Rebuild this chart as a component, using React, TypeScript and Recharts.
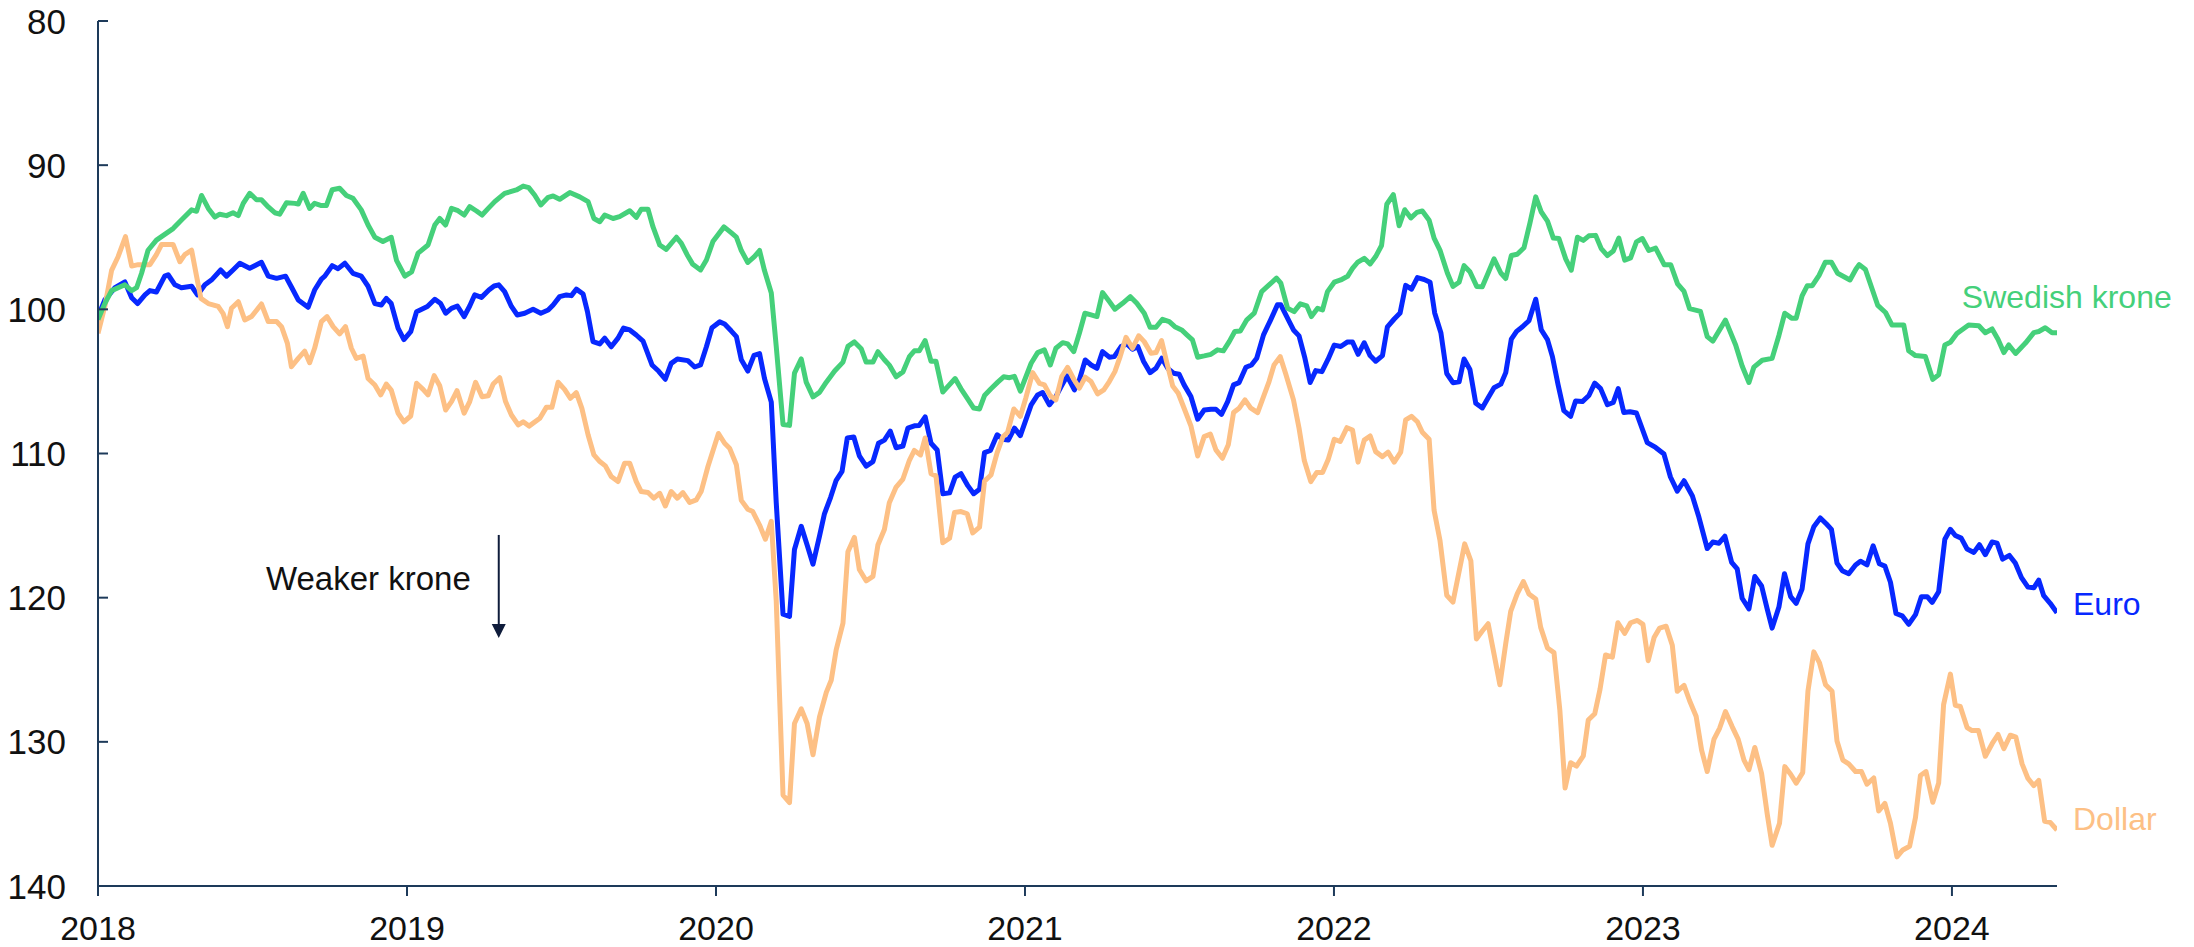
import React from 'react';
import { LineChart, Line, XAxis, YAxis, ReferenceDot, ReferenceLine } from 'recharts';

const yearTicks = [2018, 2019, 2020, 2021, 2022, 2023, 2024];
const valueTicks = [80, 90, 100, 110, 120, 130, 140];
const seriesNames = { sek: 'Swedish krone', eur: 'Euro', usd: 'Dollar' };
const annotationText = 'Weaker krone';

// [decimal year, index value]
const swedishKrone: [number, number][] = [
  [2018.000,100.7],[2018.022,99.6],[2018.044,98.7],[2018.087,98.3],[2018.109,98.7],[2018.125,98.5],[2018.141,97.5],[2018.162,95.9],[2018.189,95.2],[2018.216,94.8],[2018.243,94.4],[2018.270,93.8],[2018.303,93.1],[2018.319,93.2],[2018.335,92.1],[2018.357,93.0],[2018.378,93.6],[2018.394,93.4],[2018.416,93.5],[2018.437,93.3],[2018.454,93.5],[2018.470,92.65],[2018.491,91.95],[2018.513,92.4],[2018.529,92.4],[2018.551,92.9],[2018.572,93.3],[2018.588,93.4],[2018.610,92.6],[2018.637,92.65],[2018.648,92.7],[2018.664,91.95],[2018.685,93.0],[2018.701,92.65],[2018.723,92.8],[2018.739,92.8],[2018.758,91.7],[2018.782,91.6],[2018.804,92.1],[2018.825,92.3],[2018.852,93.1],[2018.874,94.15],[2018.896,95.0],[2018.922,95.3],[2018.949,95.0],[2018.966,96.6],[2018.993,97.7],
  [2019.015,97.4],[2019.036,96.1],[2019.068,95.54],[2019.090,94.15],[2019.106,93.7],[2019.125,94.15],[2019.144,93.0],[2019.165,93.16],[2019.185,93.46],[2019.203,92.88],[2019.225,93.18],[2019.243,93.46],[2019.263,93.0],[2019.284,92.53],[2019.316,91.96],[2019.354,91.72],[2019.376,91.45],[2019.394,91.56],[2019.413,92.07],[2019.433,92.76],[2019.457,92.23],[2019.473,92.14],[2019.494,92.37],[2019.527,91.9],[2019.559,92.2],[2019.586,92.53],[2019.605,93.7],[2019.624,93.92],[2019.640,93.46],[2019.667,93.7],[2019.688,93.57],[2019.721,93.16],[2019.742,93.62],[2019.758,93.06],[2019.780,93.06],[2019.796,94.27],[2019.818,95.54],[2019.839,95.84],[2019.872,95.0],[2019.888,95.42],[2019.907,96.23],[2019.925,96.88],[2019.950,97.27],[2019.969,96.58],[2019.990,95.3],
  [2020.026,94.28],[2020.049,94.68],[2020.066,94.99],[2020.082,95.92],[2020.103,96.75],[2020.125,96.32],[2020.141,95.92],[2020.157,97.31],[2020.179,98.86],[2020.195,102.57],[2020.217,107.99],[2020.238,108.05],[2020.254,104.43],[2020.276,103.44],[2020.292,105.05],[2020.314,106.07],[2020.335,105.76],[2020.357,105.05],[2020.384,104.28],[2020.411,103.66],[2020.427,102.57],[2020.448,102.26],[2020.470,102.73],[2020.486,103.66],[2020.508,103.66],[2020.524,102.94],[2020.545,103.5],[2020.561,103.87],[2020.583,104.68],[2020.605,104.34],[2020.626,103.28],[2020.642,102.88],[2020.658,102.88],[2020.677,102.17],[2020.696,103.6],[2020.712,103.6],[2020.734,105.73],[2020.750,105.36],[2020.774,104.8],[2020.793,105.51],[2020.815,106.23],[2020.834,106.85],[2020.853,106.91],[2020.869,105.98],[2020.890,105.51],[2020.912,105.05],[2020.931,104.68],[2020.950,104.74],[2020.966,104.65],[2020.985,105.67],
  [2021.020,103.74],[2021.041,103.0],[2021.063,102.81],[2021.082,103.86],[2021.100,102.7],[2021.122,102.31],[2021.138,102.4],[2021.158,102.93],[2021.176,101.66],[2021.194,100.27],[2021.214,100.39],[2021.233,100.5],[2021.251,98.84],[2021.273,99.46],[2021.291,99.99],[2021.316,99.58],[2021.341,99.12],[2021.362,99.58],[2021.386,100.27],[2021.405,101.24],[2021.424,101.24],[2021.445,100.69],[2021.467,100.85],[2021.485,101.2],[2021.507,101.43],[2021.524,101.77],[2021.542,102.12],[2021.559,103.32],[2021.580,103.23],[2021.602,103.12],[2021.623,102.81],[2021.642,102.88],[2021.661,102.24],[2021.679,101.54],[2021.697,101.5],[2021.718,100.73],[2021.742,100.27],[2021.766,98.77],[2021.790,98.31],[2021.814,97.84],[2021.828,98.19],[2021.850,99.93],[2021.871,100.16],[2021.891,99.62],[2021.912,99.76],[2021.927,100.5],[2021.947,99.93],[2021.963,100.04],[2021.979,98.77],
  [2022.001,98.12],[2022.022,97.96],[2022.044,97.71],[2022.060,97.16],[2022.076,96.75],[2022.098,96.46],[2022.117,96.85],[2022.135,96.34],[2022.154,95.57],[2022.171,92.71],[2022.192,92.04],[2022.211,94.2],[2022.229,93.09],[2022.249,93.66],[2022.268,93.28],[2022.286,93.18],[2022.308,93.82],[2022.324,95.06],[2022.343,95.89],[2022.367,97.48],[2022.385,98.41],[2022.405,98.12],[2022.421,96.97],[2022.440,97.39],[2022.462,98.41],[2022.480,98.44],[2022.499,97.48],[2022.518,96.5],[2022.540,97.48],[2022.556,97.86],[2022.574,96.27],[2022.593,96.18],[2022.615,95.73],[2022.634,94.04],[2022.653,92.2],[2022.671,93.25],[2022.691,93.88],[2022.710,95.06],[2022.728,95.09],[2022.750,96.5],[2022.768,97.29],[2022.788,95.0],[2022.807,95.22],[2022.825,94.9],[2022.847,94.87],[2022.865,95.79],[2022.885,96.27],[2022.904,95.95],[2022.922,95.06],[2022.941,96.59],[2022.960,96.43],[2022.979,95.32],
  [2022.998,95.09],[2023.019,95.92],[2023.041,95.75],[2023.069,96.91],[2023.090,96.91],[2023.112,98.24],[2023.133,98.76],[2023.151,99.95],[2023.186,100.14],[2023.208,101.89],[2023.226,102.21],[2023.267,100.75],[2023.300,102.47],[2023.321,103.93],[2023.343,105.07],[2023.359,104.01],[2023.386,103.53],[2023.418,103.4],[2023.440,101.81],[2023.459,100.27],[2023.481,100.61],[2023.496,100.61],[2023.515,99.07],[2023.532,98.36],[2023.548,98.36],[2023.570,97.64],[2023.590,96.74],[2023.610,96.74],[2023.630,97.5],[2023.670,97.96],[2023.690,97.18],[2023.700,96.9],[2023.720,97.24],[2023.760,99.73],[2023.785,100.22],[2023.806,101.09],[2023.844,101.09],[2023.860,102.87],[2023.882,103.21],[2023.914,103.27],[2023.938,104.86],[2023.957,104.54],[2023.977,102.47],[2023.995,102.29],
  [2024.016,101.68],[2024.054,101.09],[2024.087,101.14],[2024.108,101.62],[2024.130,101.36],[2024.149,102.07],[2024.168,103.0],[2024.184,102.47],[2024.206,103.06],[2024.238,102.34],[2024.265,101.62],[2024.281,101.54],[2024.302,101.28],[2024.324,101.62],[2024.340,101.62],
];

const euro: [number, number][] = [
  [2018.000,100.5],[2018.022,99.35],[2018.055,98.5],[2018.087,98.1],[2018.109,99.2],[2018.128,99.6],[2018.152,99.0],[2018.168,98.7],[2018.189,98.8],[2018.216,97.7],[2018.227,97.6],[2018.249,98.3],[2018.270,98.5],[2018.303,98.4],[2018.322,99.0],[2018.346,98.3],[2018.367,97.97],[2018.397,97.27],[2018.416,97.7],[2018.437,97.27],[2018.459,96.8],[2018.491,97.15],[2018.529,96.74],[2018.551,97.7],[2018.578,97.85],[2018.607,97.7],[2018.626,98.45],[2018.648,99.35],[2018.680,99.86],[2018.701,98.66],[2018.723,97.9],[2018.734,97.7],[2018.758,96.97],[2018.777,97.18],[2018.799,96.8],[2018.825,97.5],[2018.852,97.7],[2018.874,98.4],[2018.896,99.6],[2018.917,99.7],[2018.933,99.24],[2018.949,99.6],[2018.971,101.3],[2018.990,102.1],
  [2019.012,101.55],[2019.031,100.16],[2019.066,99.8],[2019.090,99.3],[2019.109,99.6],[2019.125,100.27],[2019.144,99.93],[2019.163,99.77],[2019.185,100.5],[2019.203,99.77],[2019.219,99.0],[2019.241,99.17],[2019.265,98.66],[2019.282,98.38],[2019.297,98.3],[2019.316,98.77],[2019.338,99.8],[2019.357,100.39],[2019.381,100.27],[2019.408,100.0],[2019.433,100.27],[2019.457,100.05],[2019.473,99.7],[2019.494,99.12],[2019.516,99.0],[2019.532,99.05],[2019.548,98.6],[2019.570,98.94],[2019.584,100.16],[2019.602,102.24],[2019.624,102.4],[2019.640,102.0],[2019.661,102.6],[2019.683,102.0],[2019.701,101.3],[2019.721,101.43],[2019.742,101.78],[2019.764,102.2],[2019.793,103.86],[2019.814,104.28],[2019.836,104.85],[2019.855,103.75],[2019.875,103.44],[2019.909,103.56],[2019.931,104.0],[2019.950,103.86],[2019.969,102.6],[2019.987,101.27],
  [2020.012,100.87],[2020.028,101.02],[2020.049,101.49],[2020.066,101.89],[2020.082,103.5],[2020.103,104.28],[2020.123,103.19],[2020.141,103.07],[2020.157,104.8],[2020.179,106.44],[2020.195,113.41],[2020.217,121.15],[2020.238,121.3],[2020.254,116.66],[2020.276,115.05],[2020.295,116.35],[2020.314,117.68],[2020.335,115.73],[2020.351,114.18],[2020.371,113.04],[2020.389,111.86],[2020.408,111.24],[2020.425,108.92],[2020.446,108.86],[2020.464,110.16],[2020.486,110.87],[2020.508,110.56],[2020.526,109.29],[2020.545,109.07],[2020.564,108.45],[2020.583,109.6],[2020.605,109.48],[2020.621,108.24],[2020.642,108.08],[2020.658,108.05],[2020.677,107.46],[2020.696,109.29],[2020.716,109.76],[2020.734,112.79],[2020.756,112.73],[2020.774,111.64],[2020.793,111.4],[2020.815,112.23],[2020.834,112.79],[2020.853,112.48],[2020.869,109.94],[2020.888,109.79],[2020.910,108.7],[2020.928,109.01],[2020.946,109.07],[2020.966,108.24],[2020.985,108.76],
  [2021.020,106.63],[2021.041,105.94],[2021.057,105.77],[2021.079,106.63],[2021.100,106.05],[2021.117,105.36],[2021.136,104.62],[2021.160,105.59],[2021.176,104.9],[2021.195,103.51],[2021.214,103.86],[2021.233,104.09],[2021.251,102.93],[2021.273,103.32],[2021.289,103.28],[2021.311,102.58],[2021.330,102.4],[2021.348,102.77],[2021.365,102.58],[2021.384,103.62],[2021.405,104.39],[2021.424,104.09],[2021.443,103.39],[2021.462,104.09],[2021.481,104.43],[2021.499,104.5],[2021.515,105.24],[2021.537,106.05],[2021.559,107.62],[2021.580,106.98],[2021.602,106.93],[2021.618,106.93],[2021.636,107.28],[2021.656,106.4],[2021.675,105.24],[2021.693,105.08],[2021.715,104.02],[2021.733,103.86],[2021.750,103.39],[2021.772,101.77],[2021.794,100.78],[2021.817,99.69],[2021.828,99.69],[2021.850,100.62],[2021.869,101.43],[2021.887,101.84],[2021.906,103.39],[2021.923,105.08],[2021.941,104.25],[2021.961,104.32],[2021.981,103.46],
  [2022.001,102.48],[2022.022,102.58],[2022.044,102.26],[2022.060,102.26],[2022.078,103.12],[2022.098,102.32],[2022.117,103.21],[2022.135,103.6],[2022.157,103.21],[2022.173,101.21],[2022.195,100.67],[2022.214,100.25],[2022.232,98.34],[2022.251,98.6],[2022.270,97.8],[2022.292,97.93],[2022.311,98.12],[2022.326,100.25],[2022.346,101.62],[2022.365,104.45],[2022.385,105.09],[2022.405,105.03],[2022.421,103.44],[2022.440,104.17],[2022.459,106.52],[2022.480,106.84],[2022.499,106.14],[2022.518,105.44],[2022.540,105.19],[2022.556,104.39],[2022.574,102.07],[2022.591,101.53],[2022.610,101.21],[2022.631,100.79],[2022.653,99.3],[2022.671,101.43],[2022.691,102.1],[2022.707,103.28],[2022.725,105.19],[2022.744,107.03],[2022.766,107.42],[2022.782,106.36],[2022.804,106.4],[2022.825,105.98],[2022.844,105.12],[2022.863,105.5],[2022.885,106.62],[2022.904,106.46],[2022.920,105.5],[2022.938,107.16],[2022.958,107.1],[2022.979,107.19],
  [2023.014,109.24],[2023.041,109.58],[2023.068,110.04],[2023.089,111.63],[2023.111,112.61],[2023.133,111.89],[2023.160,112.95],[2023.181,114.41],[2023.208,116.59],[2023.226,116.14],[2023.246,116.22],[2023.265,115.74],[2023.287,117.55],[2023.305,118.0],[2023.321,120.04],[2023.343,120.78],[2023.362,118.53],[2023.384,119.19],[2023.402,120.78],[2023.418,122.11],[2023.440,120.65],[2023.458,118.34],[2023.478,119.93],[2023.496,120.39],[2023.515,119.4],[2023.534,116.27],[2023.553,115.08],[2023.574,114.47],[2023.594,114.89],[2023.610,115.26],[2023.628,117.6],[2023.645,118.13],[2023.666,118.34],[2023.688,117.73],[2023.704,117.47],[2023.725,117.73],[2023.745,116.4],[2023.765,117.65],[2023.783,117.81],[2023.801,118.93],[2023.819,121.1],[2023.839,121.26],[2023.860,121.85],[2023.882,121.18],[2023.901,119.93],[2023.920,119.93],[2023.936,120.33],[2023.957,119.59],[2023.977,115.95],[2023.995,115.26],
  [2024.011,115.69],[2024.030,115.87],[2024.049,116.62],[2024.071,116.86],[2024.089,116.33],[2024.108,117.02],[2024.130,116.14],[2024.146,116.22],[2024.164,117.33],[2024.186,117.07],[2024.205,117.6],[2024.225,118.61],[2024.246,119.27],[2024.265,119.32],[2024.281,118.79],[2024.297,119.86],[2024.318,120.39],[2024.340,121.05],
];

const dollar: [number, number][] = [
  [2018.000,101.66],[2018.022,99.8],[2018.044,97.3],[2018.065,96.35],[2018.089,94.96],[2018.109,97.0],[2018.130,96.9],[2018.168,96.9],[2018.189,96.2],[2018.206,95.5],[2018.243,95.5],[2018.265,96.7],[2018.281,96.2],[2018.303,95.9],[2018.319,97.7],[2018.333,99.24],[2018.357,99.6],[2018.389,99.8],[2018.405,100.3],[2018.419,101.2],[2018.432,99.93],[2018.454,99.47],[2018.475,100.74],[2018.497,100.5],[2018.529,99.63],[2018.551,100.85],[2018.578,100.85],[2018.594,101.2],[2018.613,102.36],[2018.626,103.98],[2018.648,103.4],[2018.669,102.9],[2018.685,103.7],[2018.701,102.7],[2018.723,100.85],[2018.741,100.5],[2018.761,101.2],[2018.782,101.7],[2018.801,101.2],[2018.820,102.7],[2018.836,103.4],[2018.858,103.24],[2018.874,104.8],[2018.896,105.25],[2018.915,105.94],[2018.933,105.18],[2018.949,105.6],[2018.971,107.2],[2018.990,107.8],
  [2019.012,107.4],[2019.031,105.13],[2019.052,105.55],[2019.068,105.94],[2019.088,104.6],[2019.106,105.3],[2019.125,106.98],[2019.144,106.4],[2019.162,105.64],[2019.185,107.2],[2019.203,106.4],[2019.222,105.06],[2019.243,106.06],[2019.263,106.0],[2019.279,105.18],[2019.300,104.74],[2019.319,106.4],[2019.338,107.33],[2019.360,108.02],[2019.376,107.8],[2019.395,108.1],[2019.430,107.56],[2019.451,106.8],[2019.469,106.8],[2019.489,105.06],[2019.510,105.55],[2019.529,106.17],[2019.548,105.78],[2019.566,106.87],[2019.586,108.7],[2019.605,110.1],[2019.624,110.56],[2019.642,110.86],[2019.661,111.6],[2019.683,111.95],[2019.704,110.68],[2019.721,110.68],[2019.742,111.95],[2019.758,112.64],[2019.780,112.71],[2019.799,113.1],[2019.818,112.76],[2019.836,113.64],[2019.855,112.64],[2019.875,113.1],[2019.893,112.71],[2019.915,113.4],[2019.936,113.22],[2019.952,112.64],[2019.974,110.9],
  [2020.008,108.61],[2020.028,109.29],[2020.044,109.63],[2020.066,110.78],[2020.082,113.25],[2020.103,113.87],[2020.119,114.03],[2020.141,114.96],[2020.160,115.95],[2020.179,114.71],[2020.195,120.22],[2020.217,133.69],[2020.238,134.21],[2020.254,128.73],[2020.276,127.71],[2020.295,128.73],[2020.314,130.9],[2020.335,128.27],[2020.357,126.57],[2020.373,125.73],[2020.389,123.62],[2020.411,121.77],[2020.427,116.81],[2020.448,115.82],[2020.464,118.05],[2020.486,118.83],[2020.508,118.52],[2020.524,116.35],[2020.545,115.27],[2020.561,113.41],[2020.583,112.33],[2020.605,111.77],[2020.626,110.47],[2020.642,109.79],[2020.662,110.1],[2020.677,108.92],[2020.696,111.4],[2020.712,111.55],[2020.734,116.19],[2020.756,115.88],[2020.772,114.09],[2020.793,114.03],[2020.813,114.18],[2020.831,115.51],[2020.853,115.11],[2020.869,111.92],[2020.890,111.49],[2020.910,109.94],[2020.928,108.86],[2020.944,108.52],[2020.964,106.91],[2020.985,107.43],[2021.003,106.13],
  [2021.025,104.39],[2021.047,105.13],[2021.063,105.24],[2021.082,106.0],[2021.100,106.28],[2021.119,104.66],[2021.138,104.02],[2021.158,104.85],[2021.176,105.47],[2021.195,104.71],[2021.214,105.01],[2021.235,105.87],[2021.255,105.59],[2021.273,105.01],[2021.291,104.32],[2021.308,103.28],[2021.327,101.94],[2021.348,102.7],[2021.368,101.84],[2021.386,102.24],[2021.408,103.05],[2021.424,103.0],[2021.442,102.17],[2021.459,103.69],[2021.478,105.31],[2021.496,105.82],[2021.515,106.86],[2021.537,108.08],[2021.559,110.17],[2021.580,108.83],[2021.600,108.66],[2021.618,109.75],[2021.639,110.33],[2021.658,109.4],[2021.675,107.16],[2021.693,106.86],[2021.712,106.28],[2021.731,106.86],[2021.753,107.16],[2021.772,106.05],[2021.790,105.01],[2021.806,103.86],[2021.826,103.28],[2021.844,104.48],[2021.869,106.28],[2021.887,108.25],[2021.904,110.49],[2021.925,111.95],[2021.944,111.32],[2021.963,111.32],[2021.981,110.44],
  [2022.001,109.01],[2022.020,109.17],[2022.042,108.21],[2022.060,108.37],[2022.078,110.6],[2022.098,109.07],[2022.117,108.78],[2022.135,109.87],[2022.157,110.22],[2022.175,109.9],[2022.195,110.6],[2022.216,109.9],[2022.232,107.67],[2022.251,107.42],[2022.270,107.8],[2022.286,108.53],[2022.308,109.01],[2022.324,113.94],[2022.343,116.01],[2022.365,119.83],[2022.385,120.31],[2022.405,118.18],[2022.423,116.27],[2022.443,117.44],[2022.461,122.86],[2022.480,122.31],[2022.499,121.81],[2022.518,123.91],[2022.537,126.04],[2022.556,123.17],[2022.572,120.95],[2022.593,119.74],[2022.613,118.88],[2022.631,119.74],[2022.653,120.09],[2022.669,122.06],[2022.691,123.49],[2022.712,123.81],[2022.731,127.79],[2022.748,133.2],[2022.766,131.45],[2022.785,131.68],[2022.807,130.97],[2022.823,128.49],[2022.844,128.05],[2022.861,126.36],[2022.879,123.97],[2022.901,124.13],[2022.919,121.74],[2022.941,122.47],[2022.960,121.74],[2022.982,121.58],
  [2023.000,121.85],[2023.017,124.37],[2023.036,122.77],[2023.054,122.11],[2023.075,121.98],[2023.095,123.3],[2023.111,126.49],[2023.133,126.09],[2023.151,127.15],[2023.172,128.22],[2023.190,130.6],[2023.208,132.06],[2023.230,129.81],[2023.248,129.06],[2023.267,127.9],[2023.289,128.96],[2023.308,129.81],[2023.327,131.27],[2023.343,131.93],[2023.362,130.39],[2023.384,132.2],[2023.402,134.98],[2023.418,137.18],[2023.442,135.65],[2023.459,131.72],[2023.478,132.25],[2023.496,132.86],[2023.517,132.14],[2023.534,126.49],[2023.553,123.76],[2023.571,124.5],[2023.591,126.04],[2023.612,126.49],[2023.628,129.94],[2023.647,131.27],[2023.666,131.53],[2023.688,132.06],[2023.707,132.06],[2023.725,132.94],[2023.747,132.51],[2023.763,134.8],[2023.783,134.27],[2023.801,135.65],[2023.822,137.98],[2023.841,137.5],[2023.863,137.24],[2023.882,135.25],[2023.898,132.33],[2023.916,132.06],[2023.938,134.19],[2023.957,132.86],[2023.973,127.42],[2023.995,125.3],
  [2024.011,127.47],[2024.027,127.55],[2024.049,129.01],[2024.065,129.22],[2024.086,129.22],[2024.108,131.0],[2024.130,130.13],[2024.149,129.49],[2024.168,130.47],[2024.189,129.54],[2024.207,129.68],[2024.227,131.53],[2024.246,132.54],[2024.265,133.04],[2024.281,132.67],[2024.300,135.51],[2024.318,135.59],[2024.340,136.12],
];

const toRows = (pairs: [number, number][]) => pairs.map(([t, v]) => ({ t, v }));
const sekRows = toRows(swedishKrone);
const eurRows = toRows(euro);
const usdRows = toRows(dollar);

const FONT = '"Liberation Sans", Arial, Helvetica, sans-serif';
const AXIS = '#1d3a5a';
const GREEN = '#45d07a';
const BLUE = '#0728ff';
const ORANGE = '#fdc085';
const TEXT = '#111111';
const ARROW = '#0f1c3b';
const LINE_W = 5;

const YTick = (props: any) => {
  const { x, y, payload } = props;
  return (
    <g>
      <line x1={x + 32} x2={x + 42} y1={y} y2={y} stroke={AXIS} strokeWidth={2} />
      <text x={x} y={y} dy="0.36em" textAnchor="end" fontSize={35} fill={TEXT} fontFamily={FONT}>
        {payload.value}
      </text>
    </g>
  );
};

const ArrowShape = (props: any) => {
  const { x1, y1, x2, y2 } = props;
  return (
    <g>
      <line x1={x1} y1={y1} x2={x2} y2={y2 - 12} stroke={ARROW} strokeWidth={2} />
      <polygon points={`${x2 - 7},${y2 - 14} ${x2 + 7},${y2 - 14} ${x2},${y2}`} fill={ARROW} />
    </g>
  );
};

export default function App() {
  return (
    <div style={{ position: 'absolute', left: 0, top: 0, width: 2194, height: 947, background: '#fff' }}>
      <LineChart width={2194} height={947} margin={{ top: 21, right: 137, bottom: 0, left: 0 }}>
        <XAxis
          dataKey="t"
          type="number"
          domain={[2018, 2024.34]}
          ticks={yearTicks}
          interval={0}
          allowDataOverflow
          height={61}
          axisLine={{ stroke: AXIS, strokeWidth: 2 }}
          tickLine={{ stroke: AXIS, strokeWidth: 2 }}
          tickSize={10}
          tickMargin={20}
          tick={{ fontSize: 34, fill: TEXT, fontFamily: FONT }}
        />
        <YAxis
          type="number"
          domain={[80, 140]}
          reversed
          ticks={valueTicks}
          interval={0}
          width={98}
          axisLine={{ stroke: AXIS, strokeWidth: 2 }}
          tickLine={false}
          tickSize={0}
          tickMargin={32}
          tick={(p: any) => <YTick {...p} />}
        />
        <Line data={eurRows} dataKey="v" name={seriesNames.eur} type="linear" stroke={BLUE} strokeWidth={LINE_W} strokeLinejoin="round" dot={false} isAnimationActive={false} />
        <Line data={usdRows} dataKey="v" name={seriesNames.usd} type="linear" stroke={ORANGE} strokeWidth={LINE_W} strokeLinejoin="round" dot={false} isAnimationActive={false} />
        <Line data={sekRows} dataKey="v" name={seriesNames.sek} type="linear" stroke={GREEN} strokeWidth={LINE_W} strokeLinejoin="round" dot={false} isAnimationActive={false} />
        <ReferenceLine
          segment={[{ x: 2019.297, y: 115.65 }, { x: 2019.297, y: 122.8 }]}
          shape={(p: any) => <ArrowShape {...p} />}
        />
        <ReferenceDot x={2018.875} y={118.63} r={0} fill="none" stroke="none"
          label={{ value: annotationText, position: 'center', fill: TEXT, fontSize: 33, fontFamily: FONT }} />
        <ReferenceDot x={2024.032} y={99.14} r={0} fill="none" stroke="none" ifOverflow="visible"
          label={{ value: seriesNames.sek, position: 'right', offset: 0, fill: GREEN, fontSize: 32, fontFamily: FONT }} />
        <ReferenceDot x={2024.34} y={120.43} r={0} fill="none" stroke="none" ifOverflow="visible"
          label={{ value: seriesNames.eur, position: 'right', offset: 16, fill: BLUE, fontSize: 32, fontFamily: FONT }} />
        <ReferenceDot x={2024.34} y={135.34} r={0} fill="none" stroke="none" ifOverflow="visible"
          label={{ value: seriesNames.usd, position: 'right', offset: 16, fill: ORANGE, fontSize: 32, fontFamily: FONT }} />
      </LineChart>
    </div>
  );
}
